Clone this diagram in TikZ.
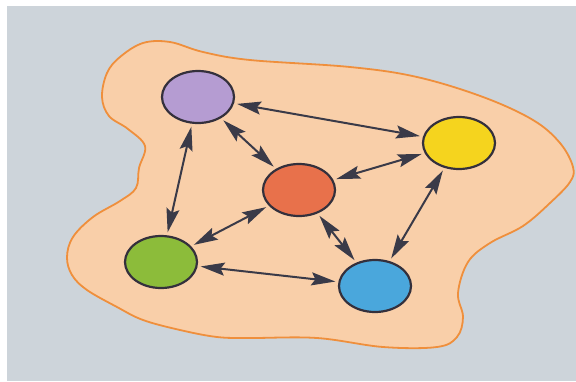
\documentclass[tikz,border=0pt]{standalone}
\usetikzlibrary{shapes.geometric,arrows.meta}
\definecolor{bgc}{HTML}{CDD4DA}
\definecolor{blobfill}{HTML}{F9CFA9}
\definecolor{blobline}{HTML}{EF8F3C}
\definecolor{rim}{HTML}{34303C}
\definecolor{arrowc}{HTML}{3A3A48}
\definecolor{cpurple}{HTML}{B59CD2}
\definecolor{cred}{HTML}{E8714B}
\definecolor{cgreen}{HTML}{8CBC3A}
\definecolor{cblue}{HTML}{4AA7DC}
\definecolor{cyellow}{HTML}{F5D41E}
\tikzset{
  ball/.style={ellipse, draw=rim, line width=2.2pt, minimum width=72pt, minimum height=52pt, inner sep=0pt},
  link/.style={draw=arrowc, line width=2pt, {Stealth[length=24pt,width=13pt,inset=4pt]}-{Stealth[length=24pt,width=13pt,inset=4pt]}, shorten >=3pt, shorten <=3pt}
}
\begin{document}
\begin{tikzpicture}[x=1pt,y=-1pt]
\useasboundingbox (0,0) rectangle (576,381);
\fill[white] (0,0) rectangle (576,381);
\fill[bgc] (7,6) rectangle (576,381);
% blob
\draw[fill=blobfill, draw=blobline, line width=1.8pt] plot[smooth cycle, tension=0.6] coordinates {
 (120,57) (143,43) (170,42) (203,52) (250,60) (350,67) (417,77) (483,97) (533,120) (560,143) (573,167) (570,182) (550,203) (523,226) (490,243) (468,262) (458,293) (463,317) (457,337) (437,347) (383,347) (317,338) (250,338) (217,337) (180,330) (143,320) (117,307) (87,290) (72,275) (67,257) (73,237) (93,217) (120,201) (136,188) (139,168) (145,146) (128,129) (109,116) (102,97) (107,73)};
% nodes
\node[ball, fill=cpurple] (purple) at (198,97) {};
\node[ball, fill=cred] (red) at (299,190) {};
\node[ball, fill=cgreen] (green) at (161,262) {};
\node[ball, fill=cblue] (blue) at (375,286) {};
\node[ball, fill=cyellow] (yellow) at (459,143) {};
% links
\draw[link] (purple) -- (yellow);
\draw[link] (purple) -- (red);
\draw[link] (purple) -- (green);
\draw[link] (red) -- (yellow);
\draw[link] (red) -- (green);
\draw[link] (red) -- (blue);
\draw[link] (yellow) -- (blue);
\draw[link] (green) -- (blue);
\end{tikzpicture}
\end{document}
